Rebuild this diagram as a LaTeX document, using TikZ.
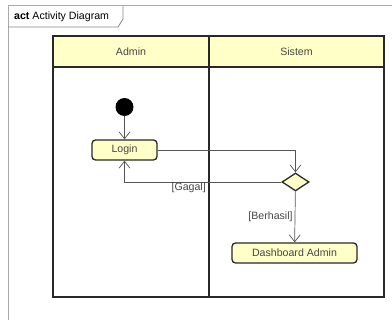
\documentclass[tikz,border=0pt]{standalone}
\usepackage{fontspec}
\setmainfont{Liberation Sans}
\usepackage{tikz}
\usetikzlibrary{shapes.geometric,arrows.meta,positioning}
\definecolor{laneyellow}{RGB}{255,255,200}
\definecolor{edgegray}{RGB}{40,40,40}
\definecolor{framegray}{RGB}{170,170,170}
\definecolor{textgray}{RGB}{70,70,70}
\definecolor{flowgray}{RGB}{85,85,85}

\begin{document}
\begin{tikzpicture}[x=1pt,y=-1pt,font=\fontsize{10.6}{12}\selectfont,text=textgray,
	action/.style={draw=edgegray,line width=1.3pt,fill=laneyellow,rounded corners=3.5pt,minimum height=20pt,inner sep=0pt},
	decision/.style={draw=edgegray,line width=1.3pt,fill=laneyellow,diamond,minimum width=27pt,minimum height=18pt,inner sep=0pt},
	startnode/.style={circle,fill=black,minimum size=18pt,inner sep=0pt},
	flow/.style={draw=flowgray,line width=0.7pt,-{Straight Barb[length=7pt,width=11pt]}},
	lanebox/.style={draw=edgegray,line width=1.5pt}]
		\useasboundingbox (0,0) rectangle (392,320);
		\begin{scope}                           % frame and tab
			\draw[framegray,line width=1pt] (8,320) -- (8,6) -- (392,6);
			\draw[framegray!80!black,line width=0.8pt] (8,27) -- (118,27) -- (123,19) -- (123,6);
			\node[anchor=west,text=black,inner sep=0pt] (tab) at (14,16.5) {\textbf{act} Activity Diagram};
		\end{scope}
		% swimlanes
		\fill[laneyellow] (53,36) rectangle (384,67);
		\draw[lanebox] (53,36) rectangle (384,297);
		\draw[lanebox] (53,67) -- (384,67);
		\draw[lanebox] (209,36) -- (209,297);
		\node (admin) at (131,51.5) {Admin};
		\node (sistem) at (296.5,51.5) {Sistem};
		% activities
		\node[startnode] (start) at (124.5,107) {};
		\node[action,minimum width=65pt] (login) at (124.5,150) {Login};
		\node[decision] (check) at (295.5,182) {};
		\node[action,minimum width=125pt] (dashboard) at (294.5,253) {Dashboard Admin};
		% flows
		\draw[flow] (start) -- (login);
		\draw[flow] (login.east) -| (check.north);
		\draw[flow] (check.west) -| (login.south) node[pos=0.235,anchor=north east,inner sep=1.5pt,yshift=1pt] {[Gagal]};
		\draw[flow] (check) -- (dashboard) node[midway,left,inner sep=2pt] {[Berhasil]};
\end{tikzpicture}
\end{document}
